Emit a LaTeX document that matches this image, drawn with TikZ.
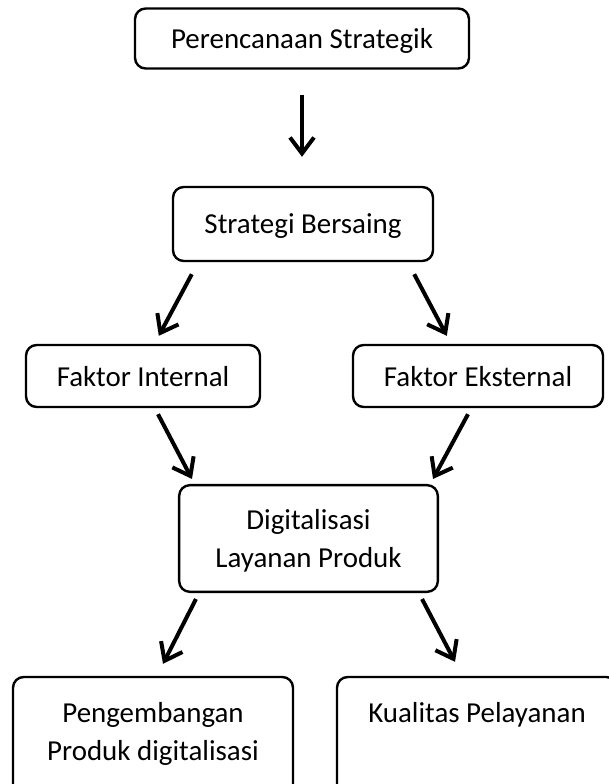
\documentclass[tikz,border=0pt]{standalone}
\usepackage{fontspec}
\setmainfont{Carlito}
\usetikzlibrary{arrows.meta,calc}

\begin{document}
\begin{tikzpicture}[x=0.75pt,y=-0.75pt,
  font=\fontsize{21.7pt}{28.5pt}\selectfont,
  b/.style={draw,line width=1.8pt,rounded corners=8pt,inner sep=0pt,align=center,text depth=0pt},
  ar/.style={-{Straight Barb[length=12pt,width=18pt]},line width=3pt},
]
\clip (0,0) rectangle (609,784);

\node[b,minimum width=250.5pt,minimum height=45pt] (ps) at (302,38.5) {Perencanaan Strategik};
\node[b,minimum width=195pt,minimum height=55.5pt] (sb) at (303,224) {Strategi Bersaing};
\node[b,minimum width=175.5pt,minimum height=46.5pt] (fi) at (143,376) {Faktor Internal};
\node[b,minimum width=187.5pt,minimum height=46.5pt] (fe) at (478,376) {Faktor Eksternal};
\node[b,minimum width=194pt,minimum height=80pt] (dl) at (308.5,538.5) {Digitalisasi\\Layanan Produk};
% bottom boxes run past the lower edge
\node[b,minimum width=210pt,minimum height=109.5pt] (pd) at (153,750) {Pengembangan\\Produk digitalisasi\\\strut};
\node[b,minimum width=210pt,minimum height=109.5pt] (kp) at (477,750) {Kualitas Pelayanan\\\strut\\\strut};

\draw[ar] ($(ps.south)+(0,25)$) -- ($(sb.north)+(-1,-29)$);
\draw[ar] ($(sb.south west)+(20,12)$) -- ($(fi.north west)+(134,-8)$);
\draw[ar] ($(sb.south east)+(-20,12)$) -- ($(fe.north west)+(95,-8)$);
\draw[ar] ($(fi.south)+(15,6)$) -- ($(dl.north west)+(14,-5)$);
\draw[ar] ($(fe.south)+(-10,6)$) -- ($(dl.north east)+(-6,-5)$);
\draw[ar] ($(dl.south west)+(18,6)$) -- ($(pd.north)+(10,-12)$);
\draw[ar] ($(dl.south east)+(-17,6)$) -- ($(kp.north)+(-22,-14)$);
\end{tikzpicture}
\end{document}
